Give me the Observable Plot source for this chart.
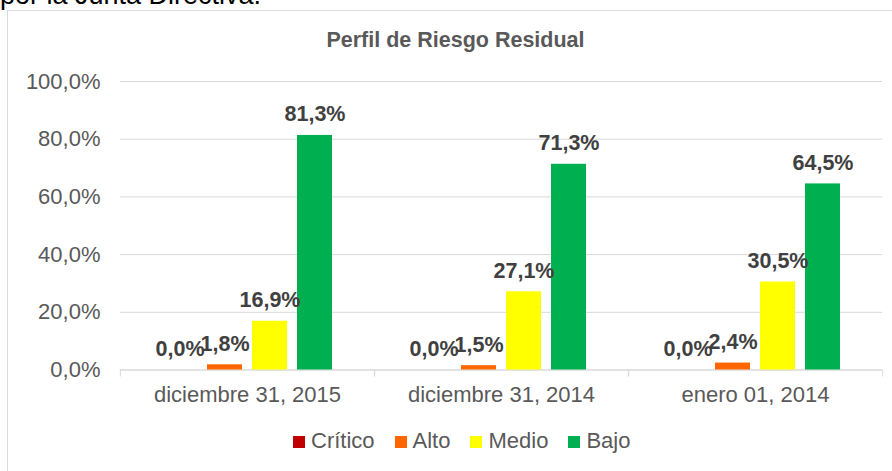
<!DOCTYPE html>
<html>
<head>
<meta charset="utf-8">
<script src="https://cdn.jsdelivr.net/npm/d3@7"></script>
<script src="https://cdn.jsdelivr.net/npm/@observablehq/plot@0.6"></script>
<style>
  html, body { margin: 0; padding: 0; background: #fff; }
  body { width: 892px; height: 471px; overflow: hidden; position: relative; font-family: "Liberation Sans", Arial, sans-serif; }
  #toptext { position: absolute; left: 0; top: -18px; font-size: 27px; line-height: 27px; color: #000; white-space: nowrap; }
  #box { position: absolute; left: 7px; top: 10px; width: 1000px; height: 1000px; border: 1.5px solid #d9d9d9; box-sizing: border-box; }
  #title { position: absolute; left: 0; width: 911px; top: 29px; text-align: center; font-weight: bold; font-size: 21.5px; line-height: 22px; color: #595959; }
  #chart { position: absolute; left: 0; top: 55px; }
  #legend { position: absolute; left: 293px; top: 430.4px; font-size: 22px; line-height: 22px; color: #595959; white-space: nowrap; }
  #legend .item { display: inline-block; margin-right: 20px; }
  #legend .sw { display: inline-block; width: 12px; height: 12px; margin-right: 6px; vertical-align: baseline; }
</style>
</head>
<body>
<div id="toptext">por la Junta Directiva.</div>
<div id="box"></div>
<div id="title">Perfil de Riesgo Residual</div>
<div id="chart"></div>
<div id="legend"></div>
<script>
const fechas = ["diciembre 31, 2015", "diciembre 31, 2014", "enero 01, 2014"];
const series = ["Crítico", "Alto", "Medio", "Bajo"];
const critico = [0.0, 0.0, 0.0];
const alto = [1.8, 1.5, 2.4];
const medio = [16.9, 27.1, 30.5];
const bajo = [81.3, 71.3, 64.5];
const colores = ["#C00000", "#FF6600", "#FFFF00", "#00B050"];
const yTicks = [0, 20, 40, 60, 80, 100];
const yTickLabels = ["0,0%", "20,0%", "40,0%", "60,0%", "80,0%", "100,0%"];

const valores = [critico, alto, medio, bajo];
const rows = [];
fechas.forEach((f, i) => {
  series.forEach((s, j) => rows.push({fecha: f, serie: s, valor: valores[j][i]}));
});
const fmt = v => v.toFixed(1).replace(".", ",") + "%";

const W = 892, H = 360, ML = 119, MR = 10;
const facetW = (W - ML - MR) / fechas.length;

const plot = Plot.plot({
  width: W,
  height: H,
  marginLeft: ML,
  marginRight: MR,
  marginTop: 26,
  marginBottom: 45.5,
  style: {fontFamily: "'Liberation Sans', Arial, sans-serif", fontSize: "22px", color: "#595959", background: "transparent"},
  fx: {domain: fechas, padding: 0, label: null},
  x: {domain: series, paddingInner: 0.217, paddingOuter: 0.87, axis: null},
  y: {domain: [0, 100], axis: null},
  color: {domain: series, range: colores},
  marks: [
    Plot.gridY(yTicks, {stroke: "#d9d9d9", strokeOpacity: 1, strokeWidth: 1}),
    Plot.ruleY([0], {stroke: "#d9d9d9", strokeWidth: 1.2}),
    Plot.axisY(yTicks, {tickSize: 0, tickPadding: 20, fontSize: 22, fill: "#595959", label: null,
      tickFormat: d => yTickLabels[yTicks.indexOf(d)]}),
    Plot.axisFx({anchor: "bottom", tickSize: 7, stroke: "#d9d9d9", tickFormat: () => "", label: null, dx: -facetW / 2}),
    Plot.axisFx({anchor: "bottom", tickSize: 7, stroke: "#d9d9d9", tickFormat: () => "", label: null, dx: facetW / 2}),
    Plot.axisFx({anchor: "bottom", tickSize: 0, tickPadding: 16.6, fontSize: 22, fill: "#595959", label: null}),
    Plot.barY(rows, {fx: "fecha", x: "serie", y: "valor", fill: "serie"}),
    Plot.text(rows, {fx: "fecha", x: "serie", y: "valor", text: d => fmt(d.valor),
      dy: -14, lineAnchor: "bottom", fontWeight: "bold", fontSize: 21.5, fill: "#404040"})
  ]
});
document.getElementById("chart").appendChild(plot);

const color = plot.scale("color");
const legend = document.getElementById("legend");
color.domain.forEach((s, i) => {
  const item = document.createElement("span");
  item.className = "item";
  const sw = document.createElement("span");
  sw.className = "sw";
  sw.style.background = color.range[i];
  item.appendChild(sw);
  item.appendChild(document.createTextNode(s));
  legend.appendChild(item);
});
</script>
</body>
</html>
